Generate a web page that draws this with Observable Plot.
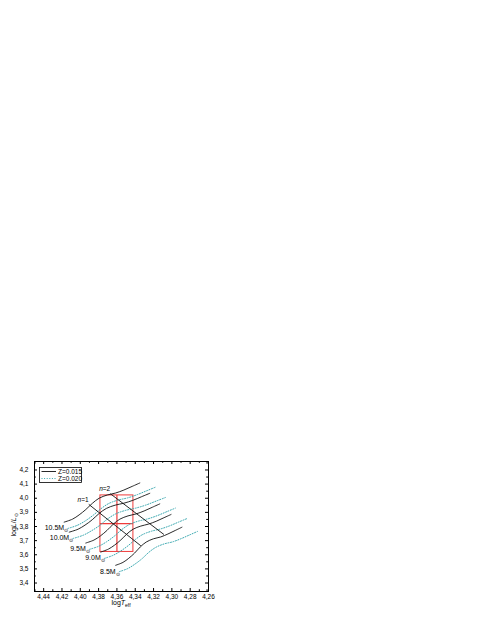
<!DOCTYPE html>
<html><head><meta charset="utf-8">
<script src="https://cdn.jsdelivr.net/npm/d3@7"></script>
<script src="https://cdn.jsdelivr.net/npm/@observablehq/plot@0.6"></script>
<style>body{margin:0;background:#fff} svg{display:block}</style>
</head><body><div id="chart"></div>
<script>
// ---- data (log Teff, log L/Lsun) ----
const masses = ["10.5", "10.0", "9.5", "9.0", "8.5"];
const seriesNames = ["Z=0.015", "Z=0.020"];

const z015_m105 = [[4.4176,3.831],[4.4085,3.852],[4.4013,3.882],[4.394,3.920],[4.3868,3.964],[4.3795,4.000],[4.3705,4.023],[4.3614,4.037],[4.3524,4.058],[4.3433,4.084],[4.335,4.108]];
const z015_m100 = [[4.4121,3.760],[4.4024,3.781],[4.3948,3.810],[4.3869,3.848],[4.3793,3.893],[4.3715,3.928],[4.3619,3.951],[4.3523,3.965],[4.3427,3.985],[4.333,4.011],[4.3241,4.035]];
const z015_m95  = [[4.394,3.683],[4.3851,3.704],[4.3781,3.733],[4.3709,3.772],[4.3639,3.817],[4.3568,3.852],[4.3479,3.875],[4.3391,3.889],[4.3303,3.910],[4.3214,3.936],[4.3132,3.960]];
const z015_m90  = [[4.3777,3.619],[4.3693,3.640],[4.3626,3.668],[4.3557,3.705],[4.3491,3.747],[4.3423,3.781],[4.3339,3.803],[4.3255,3.817],[4.3171,3.837],[4.3087,3.862],[4.3009,3.885]];
const z015_m85  = [[4.3614,3.5255],[4.3534,3.546],[4.3471,3.575],[4.3407,3.612],[4.3344,3.656],[4.328,3.690],[4.3201,3.713],[4.3122,3.726],[4.3043,3.747],[4.2963,3.772],[4.289,3.795]];

const z020_m105 = [[4.4136,3.786],[4.4032,3.8085],[4.3947,3.839],[4.3861,3.879],[4.3776,3.925],[4.369,3.9625],[4.3587,3.987],[4.3483,4.0025],[4.338,4.025],[4.3276,4.0525],[4.318,4.078]];
const z020_m100 = [[4.4081,3.715],[4.3971,3.7375],[4.3882,3.768],[4.379,3.807],[4.3701,3.854],[4.361,3.8905],[4.3501,3.915],[4.3392,3.9305],[4.3283,3.952],[4.3173,3.9795],[4.3071,4.005]];
const z020_m95  = [[4.39,3.638],[4.3798,3.6605],[4.3715,3.691],[4.363,3.731],[4.3547,3.778],[4.3463,3.8145],[4.3361,3.839],[4.326,3.8545],[4.3159,3.877],[4.3057,3.9045],[4.2962,3.930]];
const z020_m90  = [[4.3737,3.574],[4.364,3.5965],[4.356,3.626],[4.3478,3.664],[4.3399,3.708],[4.3318,3.7435],[4.3221,3.767],[4.3124,3.7825],[4.3027,3.804],[4.293,3.8305],[4.2839,3.855]];
const z020_m85  = [[4.3574,3.4805],[4.3481,3.5025],[4.3405,3.533],[4.3328,3.571],[4.3252,3.617],[4.3175,3.6525],[4.3083,3.677],[4.2991,3.6915],[4.2899,3.714],[4.2806,3.7405],[4.272,3.765]];

const n1Line = [[4.3904,3.955],[4.3342,3.665]];
const n2Line = [[4.3668,4.030],[4.309,3.745]];
const nNames = ["n=1", "n=2"];

const boxLogT = [4.378, 4.342];
const boxLogL = [3.62, 4.02];
const crossLogT = 4.36;
const crossLogL = 3.82;

const xTicks = [4.44,4.42,4.40,4.38,4.36,4.34,4.32,4.30,4.28,4.26];
const yTicks = [3.4,3.5,3.6,3.7,3.8,3.9,4.0,4.1,4.2];

// ---- build tables ----
const z015 = [z015_m105, z015_m100, z015_m95, z015_m90, z015_m85];
const z020 = [z020_m105, z020_m100, z020_m95, z020_m90, z020_m85];
const toRows = (tracks, Z) => tracks.flatMap((pts, i) => pts.map(([x, y]) => ({mass: masses[i], Z, x, y})));
const solidRows = toRows(z015, seriesNames[0]);
const dotRows = toRows(z020, seriesNames[1]);
const starts = z015.map((pts, i) => ({mass: masses[i], x: pts[0][0], y: pts[0][1]}));
const nRows = [n1Line, n2Line].flatMap((pts, i) => pts.map(([x, y]) => ({n: nNames[i], x, y})));
const nLabels = [n1Line, n2Line].map((pts, i) => ({n: nNames[i], x: pts[0][0], y: pts[0][1]}));
const boxRows = [{x1: boxLogT[0], x2: boxLogT[1], y1: boxLogL[0], y2: boxLogL[1]}];

const W = 480, H = 621;
const mL = 34, mR = 272, mT = 461, mB = 30;
const pw = W - mL - mR, ph = H - mT - mB;
const fmt = d => d.toFixed(2).replace(".", ",");
const fmtY = d => d.toFixed(1).replace(".", ",");
const xMinor = d3.range(4.45, 4.259, -0.01).map(v => +v.toFixed(2)).filter(v => !xTicks.some(t => Math.abs(t - v) < 1e-6));
const yMinor = d3.range(3.35, 4.26, 0.05).map(v => +v.toFixed(2)).filter(v => !yTicks.some(t => Math.abs(t - v) < 1e-6));
const red = "#ee3b3b";

const plot = Plot.plot({
  width: W, height: H,
  marginLeft: mL, marginRight: mR, marginTop: mT, marginBottom: mB,
  style: {fontFamily: "'Liberation Sans', Arial, sans-serif", fontSize: "6.5px", background: "#fff", color: "#000"},
  x: {domain: [4.45, 4.26]},
  y: {domain: [3.34, 4.26]},
  marks: [
    Plot.rect(boxRows, {x1: "x1", x2: "x2", y1: "y1", y2: "y2", fill: "none", stroke: red, strokeWidth: 1}),
    Plot.ruleX([crossLogT], {y1: boxLogL[0], y2: boxLogL[1], stroke: red, strokeWidth: 1.2}),
    Plot.ruleY([crossLogL], {x1: boxLogT[0], x2: boxLogT[1], stroke: red, strokeWidth: 1.2}),
    Plot.line(dotRows, {x: "x", y: "y", z: "mass", stroke: "#3aa8b0", strokeWidth: 1, strokeDasharray: "1 1.6", curve: "catmull-rom"}),
    Plot.line(solidRows, {x: "x", y: "y", z: "mass", stroke: "#111", strokeWidth: 0.9, curve: "catmull-rom"}),
    Plot.line(nRows, {x: "x", y: "y", z: "n", stroke: "#111", strokeWidth: 0.9}),
    Plot.text(starts, {x: "x", y: "y", text: d => d.mass + "M", textAnchor: "end", dx: 4, dy: 6, fontSize: 7, fill: "#000"}),
    Plot.text(nLabels, {x: "x", y: "y", text: "n", dx: -6, dy: -5, fontSize: 6.5, fill: "#000"}),
    Plot.frame({stroke: "#000", strokeWidth: 1}),
    Plot.ruleX(xTicks, {insetTop: ph - 3, stroke: "#000"}),
    Plot.ruleX(xTicks, {insetBottom: ph - 3, stroke: "#000"}),
    Plot.ruleX(xMinor, {insetTop: ph - 1.8, stroke: "#000"}),
    Plot.ruleX(xMinor, {insetBottom: ph - 1.8, stroke: "#000"}),
    Plot.ruleY(yTicks, {insetRight: pw - 3, stroke: "#000"}),
    Plot.ruleY(yTicks, {insetLeft: pw - 3, stroke: "#000"}),
    Plot.ruleY(yMinor, {insetRight: pw - 1.8, stroke: "#000"}),
    Plot.ruleY(yMinor, {insetLeft: pw - 1.8, stroke: "#000"}),
    Plot.axisX(xTicks, {tickSize: 0, tickPadding: 3, tickFormat: fmt, label: null}),
    Plot.axisY(yTicks, {tickSize: 0, tickPadding: 6, tickFormat: fmtY, label: null})
  ]
});

document.getElementById("chart").appendChild(plot);
const svg = d3.select(plot);

svg.selectAll("text").each(function () {
  const t = this.textContent;
  const m = /^(\d+\.\d)M$/.exec(t);
  if (m) {
    this.textContent = t;
    d3.select(this).append("tspan").attr("dy", "2").attr("font-size", "5").text("⊙");
  } else if (/^n=\d$/.test(t)) {
    this.textContent = "";
    d3.select(this).append("tspan").attr("font-style", "italic").text("n");
    d3.select(this).append("tspan").text(t.slice(1));
  }
});

const ff = "'Liberation Sans', Arial, sans-serif";
const yl = svg.append("text").attr("transform", "translate(16,525) rotate(-90)")
  .attr("text-anchor", "middle").attr("font-family", ff).attr("font-size", 7);
yl.append("tspan").text("log");
yl.append("tspan").attr("font-style", "italic").text("L");
yl.append("tspan").text("/");
yl.append("tspan").attr("font-style", "italic").text("L");
yl.append("tspan").attr("dy", "1.5").attr("font-size", 5).text("⊙");

const xl = svg.append("text").attr("x", 121).attr("y", 605)
  .attr("text-anchor", "middle").attr("font-family", ff).attr("font-size", 7);
xl.append("tspan").text("log");
xl.append("tspan").attr("font-style", "italic").text("T");
xl.append("tspan").attr("dy", "1.5").attr("font-size", 5).text("eff");

const lg = svg.append("g").attr("font-family", ff).attr("font-size", 6.5).attr("text-anchor", "start");
lg.append("rect").attr("x", 39.5).attr("y", 467.5).attr("width", 42).attr("height", 15)
  .attr("fill", "#fff").attr("stroke", "#000").attr("stroke-width", 0.8);
lg.append("line").attr("x1", 41.5).attr("x2", 56).attr("y1", 471.5).attr("y2", 471.5)
  .attr("stroke", "#111").attr("stroke-width", 0.9);
lg.append("line").attr("x1", 41.5).attr("x2", 56).attr("y1", 478.5).attr("y2", 478.5)
  .attr("stroke", "#3aa8b0").attr("stroke-width", 1).attr("stroke-dasharray", "1 1.6");
lg.append("text").attr("x", 58).attr("y", 471.5).attr("dy", "0.35em").text(seriesNames[0]);
lg.append("text").attr("x", 58).attr("y", 478.5).attr("dy", "0.35em").text(seriesNames[1]);
</script>
</body></html>
